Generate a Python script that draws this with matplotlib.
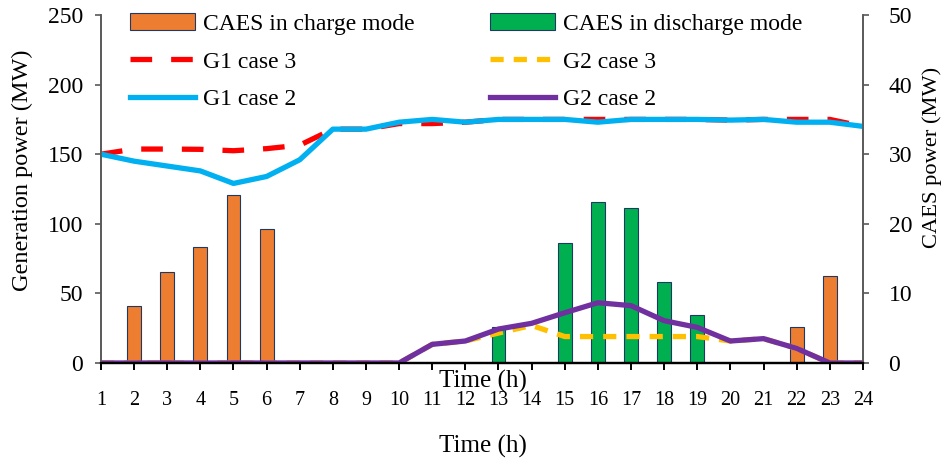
import matplotlib.pyplot as plt
import numpy as np

plt.rcParams['font.family'] = ['Liberation Serif', 'DejaVu Serif']

hours = np.arange(1, 25)

# CAES power (MW), right axis
charge = [0, 8.2, 13.1, 16.7, 24.2, 19.3, 0, 0, 0, 0, 0, 0,
          0, 0, 0, 0, 0, 0, 0, 0, 0, 5.1, 12.5, 0]
discharge = [0, 0, 0, 0, 0, 0, 0, 0, 0, 0, 0, 0,
             5.1, 0, 17.2, 23.1, 22.3, 11.6, 6.9, 0, 0, 0, 0, 0]

# generation power (MW), left axis
g1_case3 = [150, 153.7, 153.7, 153.5, 152.5, 154, 156.5, 168, 168, 172, 172, 173,
            175, 175, 175, 175, 175, 175, 175, 174.5, 175, 175, 175, 170]
g1_case2 = [150, 145, 141.5, 138, 129, 134, 146, 168, 168, 173, 175, 173,
            175, 175, 175, 173, 175, 175, 175, 174.5, 175, 173, 173, 170]
g2_case3 = [0, 0, 0, 0, 0, 0, 0, 0, 0, 0, 13.4, 15.8,
            21.5, 27, 19, 19, 19, 19, 19, 15.8, 17.5, 10.5, 0, 0]
g2_case2 = [0, 0, 0, 0, 0, 0, 0, 0, 0, 0, 13.4, 15.8,
            24.4, 28.5, 36.1, 43.3, 41.2, 30.4, 25.6, 15.8, 17.5, 10.5, 0, 0]

fig = plt.figure(figsize=(9.41, 4.62), dpi=100)
ax = fig.add_axes([0.1073, 0.2143, 0.8097, 0.7532])
ax2 = ax.twinx()
ax.set_zorder(ax2.get_zorder() + 1)
ax.patch.set_visible(False)

b1 = ax2.bar(hours, charge, width=0.42, color='#ED7D31', edgecolor='#1F3864', linewidth=0.8)
b2 = ax2.bar(hours, discharge, width=0.42, color='#00B050', edgecolor='#1F3864', linewidth=0.8)

l1, = ax.plot(hours, g1_case3, color='#FF0000', lw=3.8, ls=(0, (4.1, 3.6)))
l2, = ax.plot(hours, g2_case3, color='#FFC000', lw=3.8, ls=(0, (2.5, 1.9)))
l3, = ax.plot(hours, g1_case2, color='#00B0F0', lw=3.8)
l4, = ax.plot(hours, g2_case2, color='#7030A0', lw=3.8)

ax.set_xlim(1, 24)
ax.set_ylim(0, 250)
ax2.set_ylim(0, 50)
ax.set_xticks(hours)
ax.set_yticks(range(0, 251, 50))
ax2.set_yticks(range(0, 51, 10))

for a in (ax, ax2):
    a.spines['top'].set_visible(False)
    a.spines['left'].set_color('#595959')
    a.spines['right'].set_color('#595959')
    a.spines['bottom'].set_color('black')
    a.spines['left'].set_linewidth(1.2)
    a.spines['right'].set_linewidth(1.2)
    a.spines['bottom'].set_linewidth(1.6)
ax.tick_params(axis='y', labelsize=17, direction='out', length=4, width=1.2, colors='#595959',
               labelcolor='black', pad=9)
ax.tick_params(axis='x', labelsize=14.5, direction='out', length=5, width=1.4, colors='black',
               pad=15)
ax2.tick_params(axis='y', labelsize=17, direction='out', length=4, width=1.2, colors='#595959',
                labelcolor='black', pad=14.5)

fig.text(22 / 941, 1 - 170 / 462, 'Generation power (MW)', fontsize=17.5, rotation=90,
         ha='center', va='center')
fig.text(932 / 941, 1 - 157 / 462, 'CAES power (MW)', fontsize=16.2, rotation=90,
         ha='center', va='center')
fig.text(0.513, 0.034, 'Time (h)', fontsize=18, ha='center', va='center')
fig.text(0.513, 0.175, 'Time (h)', fontsize=18, ha='center', va='center')

leg_kw = dict(frameon=False, fontsize=17, handlelength=2.75, handletextpad=0.34,
              labelspacing=0.69, loc='upper left', borderpad=0, borderaxespad=0)
leg1 = ax.legend([b1, l1, l3], ['CAES in charge mode', 'G1 case 3', 'G1 case 2'],
                 bbox_to_anchor=(0.0381, 1.005), **leg_kw)
ax.add_artist(leg1)
ax.legend([b2, l2, l4], ['CAES in discharge mode', 'G2 case 3', 'G2 case 2'],
          bbox_to_anchor=(0.5105, 1.005), **leg_kw)

fig.savefig('out.png', dpi=100)
